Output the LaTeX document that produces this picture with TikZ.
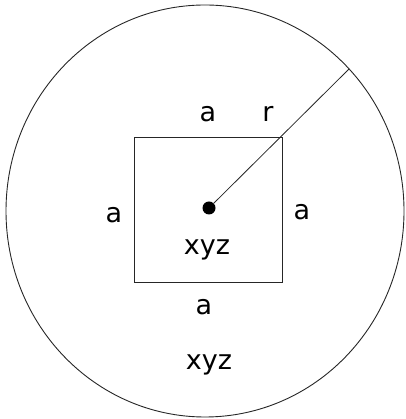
\documentclass[tikz,border=0pt]{standalone}
\usepackage{fontspec}
\setmainfont{DejaVu Sans}
\usepackage{tikz}
\usetikzlibrary{positioning, calc}

\tikzset{
  lbl/.style={anchor=base, inner sep=0pt, font=\fontsize{27}{30}\selectfont},
  edge/.style={draw=black!85, line width=0.9pt}
}

\begin{document}
\begin{tikzpicture}[x=1pt, y=1pt]
\useasboundingbox (0,0) rectangle (405,419);
% outer circle
\draw[edge] (205,208) ellipse [x radius=199, y radius=206];

% inner square
\node[edge, rectangle, minimum width=148pt, minimum height=145pt, inner sep=0pt] (sq) at (208,209.5) {};

% centre point and radius
\node[circle, fill=black, inner sep=0pt, minimum size=13pt] (ctr) at (209,211) {};
\coordinate (rim) at (349,350);
\draw[edge, line width=0.8pt] (ctr) -- (rim);

% labels
\node[lbl] (atop) at (208,297) {a};
\node[lbl] (rlab) at (268,297) {r};
\node[lbl] (aleft) at (114,196) {a};
\node[lbl] (aright) at (302,199) {a};
\node[lbl] (xyzin) at (207,164) {xyz};
\node[lbl] (abot) at (204,104) {a};
\node[lbl] (xyzout) at (209,49) {xyz};
\end{tikzpicture}
\end{document}
